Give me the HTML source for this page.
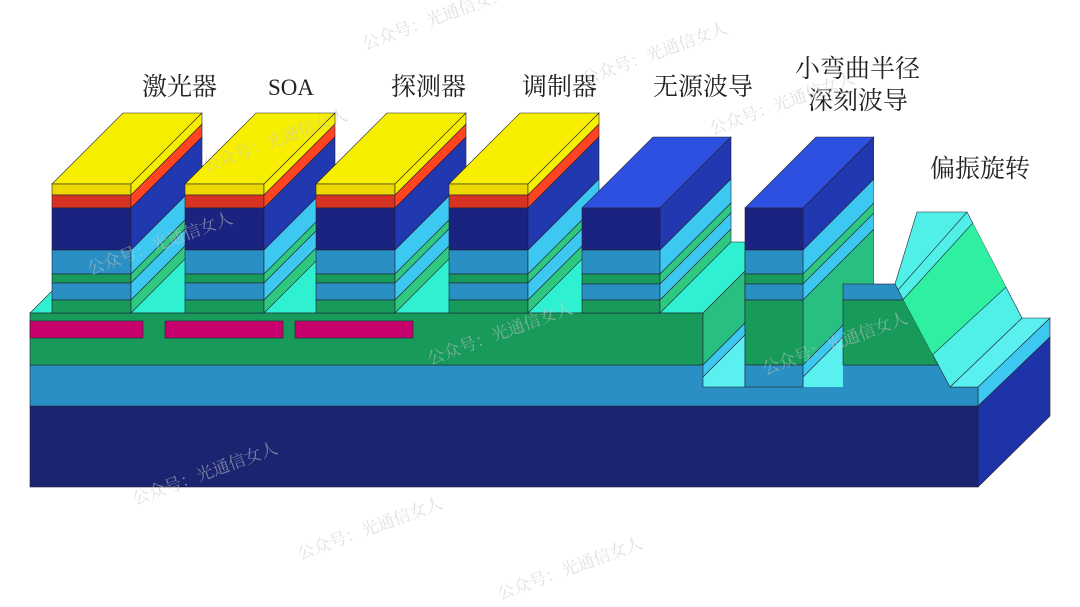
<!DOCTYPE html>
<html><head><meta charset="utf-8"><style>
html,body{margin:0;padding:0;background:#fff;}
svg{display:block;}
.t{font-family:"Liberation Serif","Noto Serif CJK SC",serif;font-size:25px;fill:#222;}
.w{font-family:"Liberation Serif","Noto Serif CJK SC",serif;font-size:17px;fill:#c8c8c8;opacity:.55;}
</style></head><body>
<svg width="1080" height="607" viewBox="0 0 1080 607" xmlns="http://www.w3.org/2000/svg">
<defs>
<g id="pil" stroke="#223" stroke-width="0.6">
 <polygon points="0,184 79,184 150,113 71,113" fill="#f8ef00"/>
 <rect x="0" y="184" width="79" height="11" fill="#ecd800"/>
 <rect x="0" y="195" width="79" height="13" fill="#d83222"/>
 <rect x="0" y="208" width="79" height="42" fill="#1a2480"/>
 <rect x="0" y="250" width="79" height="24" fill="#2a8fc2"/>
 <rect x="0" y="274" width="79" height="9" fill="#179a5a"/>
 <rect x="0" y="283" width="79" height="17" fill="#2a8fc2"/>
 <rect x="0" y="300" width="79" height="13" fill="#179a5a"/>
 <polygon points="79,184 150,113 150,124 79,195" fill="#f8ef00"/>
 <polygon points="79,195 150,124 150,137 79,208" fill="#ff4422"/>
 <polygon points="79,208 150,137 150,179 79,250" fill="#2238b0"/>
 <polygon points="79,250 150,179 150,203 79,274" fill="#3cc8f0"/>
 <polygon points="79,274 150,203 150,212 79,283" fill="#2ec880"/>
 <polygon points="79,283 150,212 150,229 79,300" fill="#3cc8f0"/>
 <polygon points="79,300 150,229 150,242 79,313" fill="#2ec880"/>
</g>
<clipPath id="c6"><polygon points="803,100 874,100 874,284 843,284 843,387 803,387"/></clipPath>
<clipPath id="rot"><polygon points="895,284 917,212 967,212 1022,318 950,387"/></clipPath>
</defs>

<rect x="30" y="406" width="948" height="81" fill="#1a2470" stroke="#223" stroke-width="0.6"/>
<polygon points="978,406 1050,337 1050,416 978,487" fill="#1f33a8" stroke="#223" stroke-width="0.6"/>
<polygon points="978,387 1050,318 1050,337 978,406" fill="#3cc8f0" stroke="#223" stroke-width="0.6"/>
<polygon points="30,365 950,365 950,387 978,387 978,406 30,406" fill="#2a8fc2" stroke="#223" stroke-width="0.6"/>

<polygon points="30,313 101,242 745,242 745,271 703,313" fill="#2ff0d0" stroke="#223" stroke-width="0.6"/>
<rect x="30" y="313" width="673" height="52" fill="#179a5a" stroke="#223" stroke-width="0.6"/>
<g stroke="#223" stroke-width="0.6" fill="#c8006e">
<rect x="30" y="321" width="113" height="17"/>
<rect x="165" y="321" width="118" height="17"/>
<rect x="295" y="321" width="118" height="17"/>
</g>

<g stroke="#223" stroke-width="0.6">
<polygon points="703,313 745,271 745,323 703,365" fill="#28c080"/>
<polygon points="703,365 745,323 745,335 703,377" fill="#3cc8f0"/>
<polygon points="703,377 745,335 745,387 703,387" fill="#5af0f0"/>
</g>

<use href="#pil" x="52"/>
<use href="#pil" x="185"/>
<use href="#pil" x="316"/>
<use href="#pil" x="449"/>

<g stroke="#223" stroke-width="0.6">
<polygon points="582,208 660,208 731,137 653,137" fill="#2d50e0"/>
<rect x="582" y="208" width="78" height="42" fill="#1a2480"/>
<rect x="582" y="250" width="78" height="24" fill="#2a8fc2"/>
<rect x="582" y="274" width="78" height="10" fill="#179a5a"/>
<rect x="582" y="284" width="78" height="16" fill="#2a8fc2"/>
<rect x="582" y="300" width="78" height="13" fill="#179a5a"/>
<polygon points="660,208 731,137 731,179 660,250" fill="#2238b0"/>
<polygon points="660,250 731,179 731,203 660,274" fill="#3cc8f0"/>
<polygon points="660,274 731,203 731,213 660,284" fill="#2ec880"/>
<polygon points="660,284 731,213 731,229 660,300" fill="#3cc8f0"/>
<polygon points="660,300 731,229 731,242 660,313" fill="#2ec880"/>
</g>

<g stroke="#223" stroke-width="0.6">
<g clip-path="url(#c6)">
<polygon points="803,208 874,137 874,179 803,250" fill="#2238b0"/>
<polygon points="803,250 874,179 874,203 803,274" fill="#3cc8f0"/>
<polygon points="803,274 874,203 874,213 803,284" fill="#2ec880"/>
<polygon points="803,284 874,213 874,229 803,300" fill="#3cc8f0"/>
<polygon points="803,300 874,229 874,294 803,365" fill="#28c080"/>
<polygon points="803,365 874,294 874,306 803,377" fill="#3cc8f0"/>
<polygon points="803,377 874,306 874,400 803,400" fill="#5af0f0"/>
</g>
<polygon points="745,208 803,208 874,137 816,137" fill="#2d50e0"/>
<rect x="745" y="208" width="58" height="42" fill="#1a2480"/>
<rect x="745" y="250" width="58" height="24" fill="#2a8fc2"/>
<rect x="745" y="274" width="58" height="10" fill="#179a5a"/>
<rect x="745" y="284" width="58" height="16" fill="#2a8fc2"/>
<rect x="745" y="300" width="58" height="65" fill="#179a5a"/>
<rect x="745" y="365" width="58" height="22" fill="#2a8fc2"/>
</g>

<g stroke="#223" stroke-width="0.6">
<rect x="843" y="284" width="107" height="16" fill="#2a8fc2"/>
<rect x="843" y="300" width="107" height="65" fill="#179a5a"/>
</g>

<polygon points="950,387 978,387 1050,318 1022,318" fill="#5af0f0" stroke="#223" stroke-width="0.6"/>

<polygon points="895,284 917,212 967,212 1022,318 950,387" fill="#50f0e8" stroke="#223" stroke-width="0.6"/>
<g clip-path="url(#rot)">
<polygon points="870,336 990,204 1030,265 915,371" fill="#2ef0a0" stroke="#223" stroke-width="0.6"/>
<line x1="967" y1="212" x2="898" y2="290" stroke="#223" stroke-width="0.6"/>
</g>

<text class="t" x="142" y="95">激光器</text>
<text class="t" x="268" y="95" style="font-size:23px">SOA</text>
<text class="t" x="391" y="95">探测器</text>
<text class="t" x="522" y="95">调制器</text>
<text class="t" x="653" y="95">无源波导</text>
<text class="t" x="795" y="77">小弯曲半径</text>
<text class="t" x="808" y="109">深刻波导</text>
<text class="t" x="930" y="177">偏振旋转</text>

<g>
<text x="365" y="50" transform="rotate(-20 365 50)" class="w">公众号：光通信女人</text>
<text x="585" y="85" transform="rotate(-20 585 85)" class="w">公众号：光通信女人</text>
<text x="712" y="135" transform="rotate(-20 712 135)" class="w">公众号：光通信女人</text>
<text x="205" y="172" transform="rotate(-20 205 172)" class="w">公众号：光通信女人</text>
<text x="90" y="275" transform="rotate(-20 90 275)" class="w">公众号：光通信女人</text>
<text x="430" y="365" transform="rotate(-20 430 365)" class="w">公众号：光通信女人</text>
<text x="765" y="375" transform="rotate(-20 765 375)" class="w">公众号：光通信女人</text>
<text x="135" y="505" transform="rotate(-20 135 505)" class="w">公众号：光通信女人</text>
<text x="300" y="560" transform="rotate(-20 300 560)" class="w">公众号：光通信女人</text>
<text x="500" y="600" transform="rotate(-20 500 600)" class="w">公众号：光通信女人</text>
</g>
</svg>
</body></html>
